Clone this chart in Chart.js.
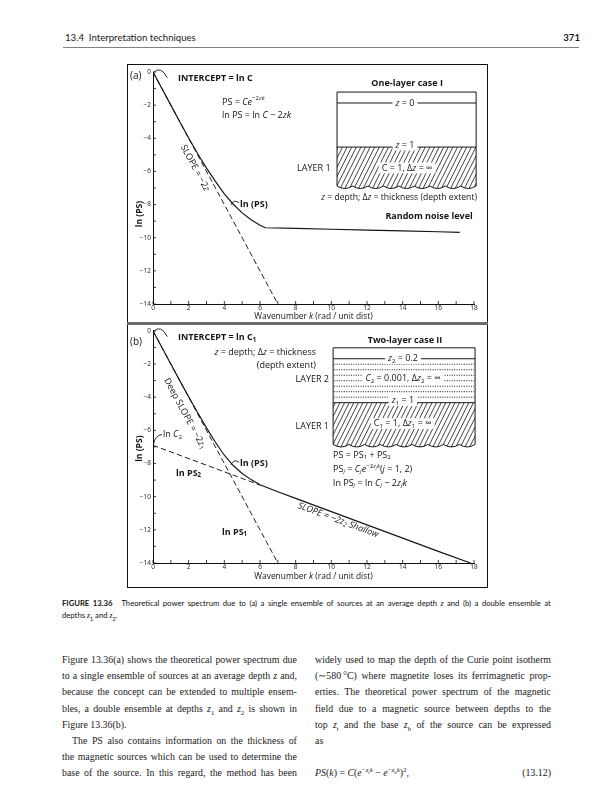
<!DOCTYPE html>
<html lang="en">
<head>
<meta charset="utf-8">
<title>Figure 13.36</title>
<script src="https://cdn.jsdelivr.net/npm/chart.js@4.4.1/dist/chart.umd.min.js"></script>
<style>
  html, body { margin: 0; padding: 0; background: #fff; }
  body { position: relative; width: 615px; height: 800px; overflow: hidden; color: #1a1a1a; }
  .hdr { position: absolute; top: 32px; font-family: Lato, sans-serif; font-size: 9.6px; }
  #hdrL { left: 65px; }
  #hdrR { right: 35px; font-weight: bold; }
  .rule { position: absolute; left: 63px; top: 47px; width: 516px; border-top: 1px solid #808080; }
  .frame { position: absolute; left: 127px; top: 64px; width: 361px; height: 524px; border: 1px solid #111; box-sizing: border-box; }
  .sep { position: absolute; left: 127px; top: 322px; width: 361px; height: 3px; background: #6b6b6b; }
  canvas { position: absolute; }
  #cA { left: 128px; top: 65px; }
  #cB { left: 128px; top: 325px; }
  .cap { position: absolute; left: 62px; top: 597px; width: 489px; font-family: Lato, sans-serif; font-size: 7.7px; color: #111; }
  .cap .ln { height: 12px; line-height: 12px; }
  .cap i, .col i { font-family: "Liberation Serif", serif; }
  .col { position: absolute; top: 652px; font-family: "Liberation Serif", serif; font-size: 9.9px; }
  .ln { height: 16.2px; line-height: 16.2px; white-space: nowrap; }
  .j { display: flex; justify-content: space-between; }
  sub, sup { font-size: 70%; line-height: 0; }
</style>
</head>
<body>
<div class="hdr" id="hdrL">13.4&nbsp;&nbsp;Interpretation techniques</div>
<div class="hdr" id="hdrR">371</div>
<div class="rule"></div>
<div class="frame"></div>
<canvas id="cA" width="359" height="257"></canvas>
<canvas id="cB" width="359" height="262"></canvas>
<div class="sep"></div>
<div class="cap" id="cap"></div>
<div class="col" id="kolKiri" style="left:62px;width:235px"></div>
<div class="col" id="kolKanan" style="left:315px;width:236px"></div>

<script>
const FONT = "'Open Sans', sans-serif";
const FS = 9;

// panel (a): satu lapisan + noise
const kA = [0, 0.5, 1, 1.5, 2, 2.5, 3, 3.5, 4, 4.5, 5, 5.5, 6, 6.3, 8, 10, 12, 14, 16, 17.2];
const lnPsA = [0, -1, -2, -3, -3.98, -4.92, -5.8, -6.6, -7.35, -7.98, -8.5, -8.92, -9.25, -9.4, -9.44, -9.49, -9.54, -9.59, -9.64, -9.68];
const kDeepA = [0, 7];
const lnDeepA = [0, -14];

// panel (b): dua lapisan
const kB = [0, 0.5, 1, 1.5, 2, 2.5, 3, 3.5, 4, 4.5, 5, 5.5, 6, 7, 8, 10, 12, 14, 16, 17.8];
const lnPsB = [0, -1, -2, -3, -3.97, -4.92, -5.85, -6.72, -7.5, -8.12, -8.6, -8.97, -9.28, -9.7, -10.1, -10.9, -11.7, -12.5, -13.3, -14.0];
const kDeepB = [0, 7];
const lnDeepB = [0, -14];
const kShallowB = [0, 6];
const lnShallowB = [-6.9, -9.3];

// label sumbu
const xTickLabels = [0, 2, 4, 6, 8, 10, 12, 14, 16, 18];
const yTickLabels = [0, -2, -4, -6, -8, -10, -12, -14];

const toXY = (xs, ys) => xs.map((x, i) => ({ x, y: ys[i] }));
const minus = v => (v < 0 ? "\u2212" + (-v) : String(v));

// teks kaya sederhana: <b>, <i>, <sub>, <sup>
function rich(ctx, src, x, y, o) {
  o = Object.assign({ size: FS, align: "left", rot: 0, bg: false }, o || {});
  const st = { b: false, i: false, sub: 0, sup: 0 };
  const segs = [];
  src.split(/(<\/?(?:b|i|sub|sup)>)/).forEach(tok => {
    if (!tok) return;
    const m = tok.match(/^<(\/?)(b|i|sub|sup)>$/);
    if (m) {
      const on = !m[1];
      if (m[2] === "b" || m[2] === "i") st[m[2]] = on;
      else st[m[2]] += on ? 1 : -1;
      return;
    }
    segs.push({ t: tok, b: st.b, i: st.i, sub: st.sub, sup: st.sup });
  });
  let w = 0;
  segs.forEach(s => {
    const sz = o.size * Math.pow(0.68, s.sub + s.sup);
    s.font = (s.i ? "italic " : "") + (s.b ? "bold " : "") + sz.toFixed(2) + "px " + FONT;
    s.dy = (s.sub ? o.size * 0.25 : 0) - (s.sup ? o.size * 0.38 : 0);
    ctx.font = s.font;
    s.w = ctx.measureText(s.t).width;
    w += s.w;
  });
  ctx.save();
  ctx.translate(x, y);
  ctx.rotate(o.rot);
  let x0 = o.align === "center" ? -w / 2 : o.align === "right" ? -w : 0;
  if (o.bg) {
    ctx.fillStyle = "#fff";
    ctx.fillRect(x0 - 3, -o.size * 0.6, w + 6, o.size * 1.2);
  }
  ctx.fillStyle = "#151515";
  ctx.textBaseline = "middle";
  segs.forEach(s => {
    ctx.font = s.font;
    ctx.fillText(s.t, x0, s.dy);
    x0 += s.w;
  });
  ctx.restore();
}

// tick kecil ke dalam
const inTicks = {
  id: "inTicks",
  afterDraw(chart) {
    const { ctx, scales: { x, y } } = chart;
    ctx.save();
    ctx.strokeStyle = "#111";
    ctx.lineWidth = 0.8;
    ctx.beginPath();
    x.ticks.forEach(t => { const p = x.getPixelForValue(t.value); ctx.moveTo(p, x.top); ctx.lineTo(p, x.top - 3); });
    y.ticks.forEach(t => { const p = y.getPixelForValue(t.value); ctx.moveTo(y.right, p); ctx.lineTo(y.right + 3, p); });
    ctx.stroke();
    ctx.restore();
  }
};

function helpers(chart) {
  const { ctx, scales: { x: xs, y: ys } } = chart;
  const P = (k, v) => [xs.getPixelForValue(k), ys.getPixelForValue(v)];
  const T = (s, k, v, o) => { const p = P(k, v); rich(ctx, s, p[0], p[1], o); };
  const curl = (a, c, b) => {
    const p1 = P(a[0], a[1]), pc = P(c[0], c[1]), p2 = P(b[0], b[1]);
    ctx.save();
    ctx.strokeStyle = "#151515";
    ctx.lineWidth = 0.9;
    ctx.beginPath();
    ctx.moveTo(p1[0], p1[1]);
    ctx.quadraticCurveTo(pc[0], pc[1], p2[0], p2[1]);
    ctx.stroke();
    ctx.restore();
  };
  const angle = (ks, vs) => {
    const a = P(ks[0], vs[0]), b = P(ks[1], vs[1]);
    return Math.atan2(b[1] - a[1], b[0] - a[0]);
  };
  const axisTitles = (dy, yv) => {
    rich(ctx, "Wavenumber <i>k</i> (rad / unit dist)", (xs.left + xs.right) / 2, xs.top + dy, { align: "center", size: 8.4 });
    rich(ctx, "<b>ln (PS)</b>", ys.left + 12, ys.getPixelForValue(yv), { align: "center", rot: -Math.PI / 2, size: 8.6 });
  };
  return { ctx, xs, ys, P, T, curl, angle, axisTitles };
}

// kotak lapisan di kanan
function layerBox(h, b) {
  const { ctx, P } = h;
  const L = P(b.k0, 0)[0], R = P(b.k1, 0)[0];
  const T = P(0, b.top)[1], S = P(0, b.surf)[1], H = P(0, b.hatch)[1], B = P(0, b.bottom)[1];
  const n = 9, w = (R - L) / n;
  const edge = p => {
    p.lineTo(R, B);
    for (let i = n; i > 0; i--) p.quadraticCurveTo(L + (i - 0.5) * w, B + 5, L + (i - 1) * w, B);
  };
  ctx.save();
  ctx.strokeStyle = "#151515";
  // arsiran
  const clip = new Path2D();
  clip.moveTo(L, H);
  clip.lineTo(R, H);
  edge(clip);
  clip.closePath();
  ctx.save();
  ctx.clip(clip);
  ctx.lineWidth = 0.8;
  ctx.beginPath();
  for (let x = L - 40; x < R + 5; x += 4.6) {
    ctx.moveTo(x, B + 6);
    ctx.lineTo(x + 0.5 * (B + 6 - H), H);
  }
  ctx.stroke();
  ctx.restore();
  // titik-titik lapisan 2
  if (b.dots) {
    ctx.save();
    ctx.lineWidth = 0.9;
    ctx.setLineDash([1.1, 1.3]);
    ctx.beginPath();
    for (let i = 1; i <= b.dots; i++) {
      const yy = S + (H - S) * i / (b.dots + 1);
      ctx.moveTo(L + 1, yy);
      ctx.lineTo(R - 1, yy);
    }
    ctx.stroke();
    ctx.restore();
  }
  const out = new Path2D();
  out.moveTo(L, T);
  out.lineTo(R, T);
  edge(out);
  out.closePath();
  ctx.lineWidth = 1;
  ctx.stroke(out);
  ctx.beginPath();
  ctx.moveTo(L, S); ctx.lineTo(R, S);
  ctx.moveTo(L, H); ctx.lineTo(R, H);
  ctx.stroke();
  ctx.restore();
}

function gambarA(chart) {
  const h = helpers(chart);
  const { T, curl, angle } = h;
  layerBox(h, { k0: 10.32, k1: 18.12, top: -1.21, surf: -1.87, hatch: -4.53, bottom: -6.88 });
  T("(a)", -1.29, -0.24, { size: 10 });
  T("<b>INTERCEPT = ln C</b>", 1.4, -0.36);
  curl([0.04, -0.02], [0.45, 0.4], [0.8, -0.35]);
  T("PS = <i>Ce</i><sup>−2<i>zk</i></sup>", 3.87, -1.81);
  T("ln PS = ln <i>C</i> − 2<i>zk</i>", 3.87, -2.6);
  T("SLOPE = −2<i>z</i>", 2.35, -5.79, { align: "center", rot: angle(kDeepA, lnDeepA) });
  T("<b>ln (PS)</b>", 4.88, -7.97);
  curl([4.82, -7.9], [4.55, -7.65], [4.36, -8.02]);
  T("LAYER 1", 8.08, -5.79);
  T("<b>One-layer case I</b>", 14.25, -0.72, { align: "center" });
  T("<i>z</i> = 0", 14.13, -1.87, { align: "center", bg: true });
  T("<i>z</i> = 1", 14.13, -4.41, { align: "center", bg: true });
  T("C = 1, Δ<i>z</i> = ∞", 14.25, -5.79, { align: "center", bg: true });
  T("<i>z</i> = depth; Δ<i>z</i> = thickness (depth extent)", 13.8, -7.6, { align: "center", size: 8.6 });
  T("<b>Random noise level</b>", 15.48, -8.69, { align: "center" });
  h.axisTitles(12.6, -8.57);
}

function gambarB(chart) {
  const h = helpers(chart);
  const { T, curl, angle } = h;
  layerBox(h, { k0: 10.1, k1: 18.06, top: -1.02, surf: -1.68, hatch: -4.33, bottom: -6.85, dots: 7 });
  T("(b)", -1.29, -0.66, { size: 10 });
  T("<b>INTERCEPT = ln C<sub>1</sub></b>", 1.4, -0.42);
  curl([0.04, -0.02], [0.45, 0.4], [0.8, -0.35]);
  T("<i>z</i> = depth; Δ<i>z</i> = thickness", 9.14, -1.32, { align: "right" });
  T("(depth extent)", 9.14, -2.1, { align: "right" });
  T("LAYER 2", 9.87, -2.94, { align: "right" });
  T("LAYER 1", 9.87, -5.77, { align: "right" });
  T("Deep SLOPE = −2<i>z</i><sub>1</sub>", 1.79, -4.99, { align: "center", rot: angle(kDeepB, lnDeepB) });
  T("ln <i>C</i><sub>2</sub>", 0.56, -6.25);
  curl([0.5, -6.25], [0.12, -6.3], [0.03, -6.82]);
  T("<b>ln PS<sub>2</sub></b>", 1.29, -8.59);
  T("<b>ln (PS)</b>", 4.88, -7.99);
  curl([4.82, -7.92], [4.55, -7.7], [4.36, -8.08]);
  T("<b>ln PS<sub>1</sub></b>", 3.87, -12.14);
  T("<i>SLOPE = −2z<sub>2</sub> Shallow</i>", 10.38, -11.42, { align: "center", rot: angle(kShallowB, lnShallowB) });
  T("<b>Two-layer case II</b>", 14.13, -0.6, { align: "center" });
  T("<i>z</i><sub>2</sub> = 0.2", 14.02, -1.68, { align: "center", bg: true });
  T("<i>C</i><sub>2</sub> = 0.001, Δ<i>z</i><sub>2</sub> = ∞", 14.02, -2.88, { align: "center", bg: true });
  T("<i>z</i><sub>1</sub> = 1", 14.02, -4.2, { align: "center", bg: true });
  T("C<sub>1</sub> = 1, Δ<i>z</i><sub>1</sub> = ∞", 14.0, -5.59, { align: "center", bg: true });
  T("PS = PS<sub>1</sub> + PS<sub>2</sub>", 10.1, -7.51);
  T("PS<sub><i>j</i></sub> = <i>C<sub>j</sub>e</i><sup>−2<i>z<sub>j</sub>k</i></sup>(<i>j</i> = 1, 2)", 10.1, -8.35);
  T("ln PS<sub><i>j</i></sub> = ln <i>C<sub>j</sub></i> − 2<i>z<sub>j</sub>k</i>", 10.1, -9.19);
  h.axisTitles(14, -7.1);
}

const solid = (data) => ({ data, showLine: true, pointRadius: 0, borderColor: "#151515", borderWidth: 1.15, tension: 0, fill: false });
const dashed = (data) => Object.assign(solid(data), { borderWidth: 0.95, borderDash: [5.5, 3] });

function buatGrafik(id, datasets, geo, drawExtra) {
  return new Chart(document.getElementById(id), {
    type: "scatter",
    data: { datasets },
    options: {
      responsive: false,
      animation: false,
      events: [],
      layout: { padding: { left: 0, right: 13, top: geo.top, bottom: 0 } },
      plugins: { legend: { display: false }, tooltip: { enabled: false } },
      scales: {
        x: {
          type: "linear", min: 0, max: 18,
          grid: { display: false, drawTicks: false },
          border: { display: true, color: "#111", width: 1 },
          ticks: {
            stepSize: 1, autoSkip: false, maxRotation: 0, padding: 0.5, color: "#222",
            font: { family: FONT, size: 6.5 },
            callback: v => (xTickLabels.includes(v) ? minus(v) : "")
          },
          afterFit: s => { s.height = geo.xh; }
        },
        y: {
          type: "linear", min: -14, max: 0,
          grid: { display: false, drawTicks: false },
          border: { display: true, color: "#111", width: 1 },
          ticks: {
            stepSize: 1, autoSkip: false, padding: 2, color: "#222",
            font: { family: FONT, size: 6.5 },
            callback: v => (yTickLabels.includes(v) ? minus(v) : "")
          },
          afterFit: s => { s.width = geo.yw; }
        }
      }
    },
    plugins: [inTicks, { id: "extra", afterDraw: c => drawExtra(c) }]
  });
}

buatGrafik("cA", [
  solid(toXY(kA, lnPsA)),
  dashed(toXY(kDeepA, lnDeepA))
], { top: 7, xh: 18, yw: 25 }, gambarA);

buatGrafik("cB", [
  solid(toXY(kB, lnPsB)),
  dashed(toXY(kDeepB, lnDeepB)),
  dashed(toXY(kShallowB, lnShallowB))
], { top: 5, xh: 24, yw: 25 }, gambarB);

// teks halaman
const capLines = [
  { t: "<b>FIGURE 13.36</b>&nbsp; Theoretical power spectrum due to (a) a single ensemble of sources at an average depth <i>z</i> and (b) a double ensemble at", j: 1 },
  { t: "depths <i>z</i><sub>1</sub> and <i>z</i><sub>2</sub>." }
];
const kolKiri = [
  { t: "Figure 13.36(a) shows the theoretical power spectrum due", j: 1 },
  { t: "to a single ensemble of sources at an average depth <i>z</i> and,", j: 1 },
  { t: "because the concept can be extended to multiple ensem-", j: 1 },
  { t: "bles, a double ensemble at depths <i>z</i><sub>1</sub> and <i>z</i><sub>2</sub> is shown in", j: 1 },
  { t: "Figure 13.36(b)." },
  { t: "The PS also contains information on the thickness of", j: 1, ind: 1 },
  { t: "the magnetic sources which can be used to determine the", j: 1 },
  { t: "base of the source. In this regard, the method has been", j: 1 }
];
const kolKanan = [
  { t: "widely used to map the depth of the Curie point isotherm", j: 1 },
  { t: "(∼580\u2009°C) where magnetite loses its ferrimagnetic prop-", j: 1 },
  { t: "erties. The theoretical power spectrum of the magnetic", j: 1 },
  { t: "field due to a magnetic source between depths to the", j: 1 },
  { t: "top <i>z</i><sub>t</sub> and the base <i>z</i><sub>b</sub> of the source can be expressed", j: 1 },
  { t: "as" },
  { t: "" },
  { eq: "<i>PS</i>(<i>k</i>) = <i>C</i>(<i>e</i><sup>−<i>z</i><sub>t</sub><i>k</i></sup> − <i>e</i><sup>−<i>z</i><sub>b</sub><i>k</i></sup>)<sup>2</sup>,", no: "(13.12)" }
];

function isiKolom(el, lines) {
  lines.forEach(l => {
    const d = document.createElement("div");
    d.className = "ln";
    if (l.eq) {
      d.classList.add("j");
      d.innerHTML = "<span>" + l.eq + "</span><span>" + l.no + "</span>";
    } else if (l.j) {
      d.classList.add("j");
      d.innerHTML = l.t.split(" ").map(w => "<span>" + w + "</span>").join("");
    } else {
      d.innerHTML = l.t || "&nbsp;";
    }
    if (l.ind) d.style.paddingLeft = "10px";
    el.appendChild(d);
  });
}

isiKolom(document.getElementById("cap"), capLines);
isiKolom(document.getElementById("kolKiri"), kolKiri);
isiKolom(document.getElementById("kolKanan"), kolKanan);
</script>
</body>
</html>
